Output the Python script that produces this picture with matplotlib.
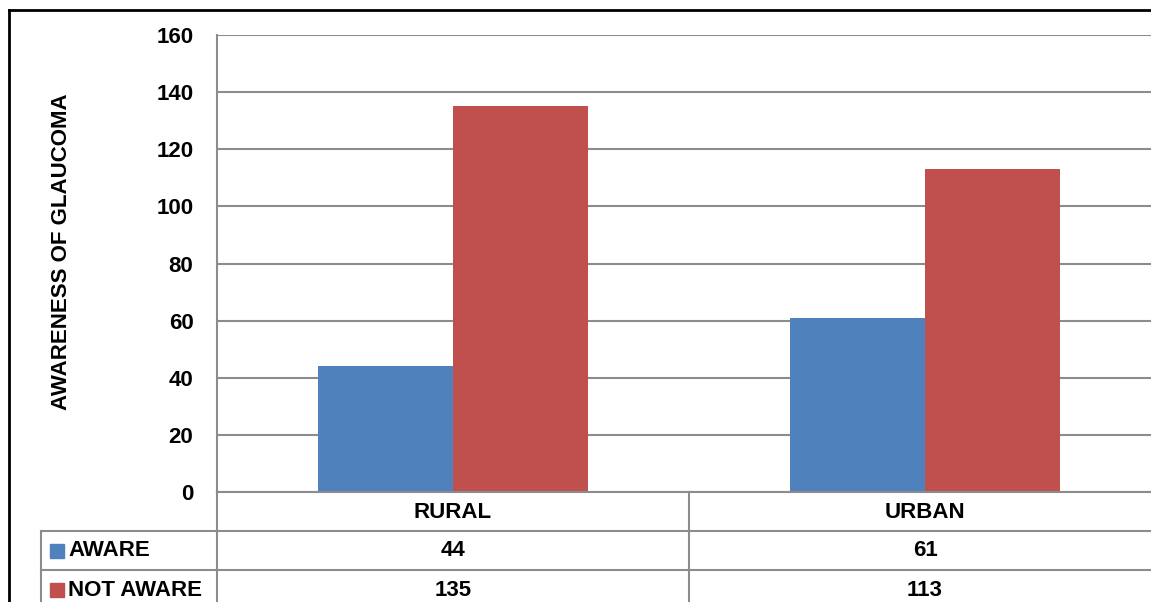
import matplotlib
matplotlib.use("Agg")
import matplotlib.pyplot as plt
from matplotlib.lines import Line2D
from matplotlib.patches import Rectangle
import numpy as np

categories = ["RURAL", "URBAN"]
series_names = ["AWARE", "NOT AWARE"]
aware = [44, 61]
not_aware = [135, 113]
yticks = [0, 20, 40, 60, 80, 100, 120, 140, 160]
ylabel = "AWARENESS OF GLAUCOMA"

colors = ["#4F81BD", "#C0504D"]
grid_c = "#8C8C8C"
FONT = ["Liberation Sans", "DejaVu Sans"]
plt.rcParams["font.family"] = FONT
plt.rcParams["font.weight"] = "bold"
FS = 16

W, H = 1151, 602
fig = plt.figure(figsize=(W / 100, H / 100), dpi=100)

def fx(px):
    return px / W

def fy(py):
    return 1 - py / H

# axes geometry in pixels
ax_l, ax_r, ax_t, ax_b = 217, 1161, 35, 492
ax = fig.add_axes([fx(ax_l), fy(ax_b), fx(ax_r - ax_l), (ax_b - ax_t) / H])
x = np.arange(len(categories))
bw = 0.2865
ax.bar(x - bw / 2, aware, bw, color=colors[0], zorder=3)
ax.bar(x + bw / 2, not_aware, bw, color=colors[1], zorder=3)
ax.set_xlim(-0.5, len(categories) - 0.5)
ax.set_ylim(0, 160)
ax.set_yticks(yticks)
ax.set_yticklabels([str(t) for t in yticks], fontsize=FS, fontweight="bold")
ax.tick_params(axis="y", length=0, pad=17)
ax.set_xticks([])
ax.yaxis.grid(True, color=grid_c, linewidth=1.5, zorder=0)
for s in ["top", "right", "bottom"]:
    ax.spines[s].set_visible(False)
ax.spines["left"].set_color(grid_c)
ax.spines["left"].set_linewidth(1.5)

fig.text(fx(62), fy(252), ylabel, rotation=90, ha="center", va="center",
         fontsize=FS, fontweight="bold")

# outer border
fig.add_artist(Line2D([fx(9), fx(W + 5)], [fy(10), fy(10)], color="black", lw=2))
fig.add_artist(Line2D([fx(9), fx(9)], [fy(10), fy(H + 5)], color="black", lw=2))

# data table
row_y = [492, 531, 570]
col_x = [41, 217, 689, 1161]
lc = grid_c
lw = 1.5
fig.add_artist(Line2D([fx(217), fx(W)], [fy(492), fy(492)], color=lc, lw=lw))
for yy in row_y[1:3]:
    fig.add_artist(Line2D([fx(41), fx(W)], [fy(yy), fy(yy)], color=lc, lw=lw))
fig.add_artist(Line2D([fx(41), fx(41)], [fy(531), fy(H + 5)], color=lc, lw=lw))
fig.add_artist(Line2D([fx(217), fx(217)], [fy(492), fy(H + 5)], color=lc, lw=lw))
fig.add_artist(Line2D([fx(689), fx(689)], [fy(492), fy(H + 5)], color=lc, lw=lw))

# header row
for i, c in enumerate(categories):
    cx = (col_x[i + 1] + col_x[i + 2]) / 2
    fig.text(fx(cx), fy(512), c, ha="center", va="center",
             fontsize=FS, fontweight="bold")

# data rows
row_centers = [551, 590]
for r, (name, vals) in enumerate(zip(series_names, [aware, not_aware])):
    yc = row_centers[r]
    fig.add_artist(Rectangle((fx(50), fy(yc + 7)), 14 / W, 14 / H,
                             color=colors[r], transform=fig.transFigure))
    fig.text(fx(68), fy(yc), name, ha="left", va="center", fontsize=FS,
             fontweight="bold")
    for i, v in enumerate(vals):
        cx = (col_x[i + 1] + col_x[i + 2]) / 2
        fig.text(fx(cx), fy(yc), str(v), ha="center", va="center", fontsize=FS,
                 fontweight="bold")

fig.savefig("out.png", dpi=100)
